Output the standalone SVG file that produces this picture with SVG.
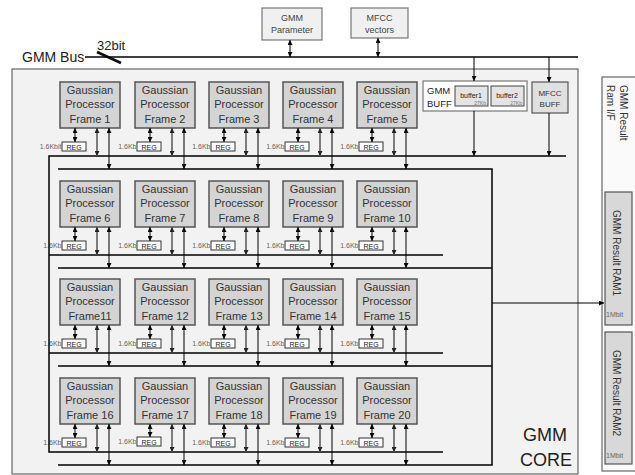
<svg xmlns="http://www.w3.org/2000/svg" width="635" height="475" viewBox="0 0 635 475">
<defs>
<marker id="ah" viewBox="0 0 6 6" refX="6" refY="3" markerWidth="5" markerHeight="5" markerUnits="userSpaceOnUse" orient="auto-start-reverse"><path d="M0,0 L6,3 L0,6 z" fill="#000"/></marker>
<marker id="ahg" viewBox="0 0 6 6" refX="6" refY="3" markerWidth="5" markerHeight="5" markerUnits="userSpaceOnUse" orient="auto-start-reverse"><path d="M0,0 L6,3 L0,6 z" fill="#222"/></marker>
</defs>
<style>
text{font-family:"Liberation Sans",Arial,sans-serif;}
.gp rect{fill:#d4d4d4;stroke:#555;stroke-width:1.5;}
.gp text{font-size:11px;fill:#333;text-anchor:middle;}
.reg rect{fill:#fff;stroke:#333;stroke-width:1;}
.reg text{font-size:7px;fill:#222;text-anchor:middle;}
.reg .kb{font-size:7px;fill:#666;text-anchor:end;}
.bus{stroke:#000;stroke-width:1.5;fill:none;}
.da{stroke:#000;stroke-width:1;fill:none;marker-start:url(#ah);marker-end:url(#ah);}
.dg{stroke:#555;stroke-width:1.5;fill:none;marker-start:url(#ahg);marker-end:url(#ahg);}
.sa{stroke:#000;stroke-width:1;fill:none;marker-end:url(#ah);}
.small{font-size:9px;fill:#444;text-anchor:middle;}
.rot{font-size:10px;fill:#333;}
.mb{font-size:7px;fill:#666;}
</style>

<rect x="12" y="69" width="566" height="405" fill="#f2f2f2" stroke="#666" stroke-width="1.2"/>

<g id="gmm-bus-label">
<text x="22" y="62" font-size="14" fill="#222">GMM Bus</text>
<text x="97" y="50" font-size="13" fill="#222">32bit</text>
<line x1="97" y1="52" x2="121" y2="63" stroke="#111" stroke-width="3"/>
</g>

<g id="gmm-parameter"><rect x="262" y="8" width="60" height="32" fill="#f0f0f0" stroke="#777" stroke-width="1.2"/><text class="small" x="292" y="21">GMM</text><text class="small" x="292" y="33">Parameter</text></g>
<g id="mfcc-vectors"><rect x="351" y="8" width="57" height="30" fill="#f0f0f0" stroke="#777" stroke-width="1.2"/><text class="small" x="379.5" y="21">MFCC</text><text class="small" x="379.5" y="33">vectors</text></g>

<g id="gmm-buff">
<rect x="423" y="81" width="104" height="30" fill="#fff" stroke="#777" stroke-width="1.2"/>
<text x="427" y="94" font-size="9.5" fill="#222">GMM</text>
<text x="427" y="107" font-size="9.5" fill="#222">BUFF</text>
<rect x="455" y="86" width="33" height="20" fill="#e4e4e4" stroke="#444" stroke-width="1"/>
<text x="471" y="98" font-size="7" fill="#222" text-anchor="middle">buffer1</text>
<text x="486" y="104.5" font-size="5" fill="#777" text-anchor="end">27Kb</text>
<rect x="491" y="86" width="33" height="20" fill="#e4e4e4" stroke="#444" stroke-width="1"/>
<text x="507" y="98" font-size="7" fill="#222" text-anchor="middle">buffer2</text>
<text x="522" y="104.5" font-size="5" fill="#777" text-anchor="end">27Kb</text>
</g>
<g id="mfcc-buff"><rect x="532" y="82" width="36" height="31" fill="#e0e0e0" stroke="#555" stroke-width="1.2"/><text x="550" y="96" font-size="8" fill="#333" text-anchor="middle">MFCC</text><text x="550" y="107" font-size="8" fill="#333" text-anchor="middle">BUFF</text></g>

<g id="ram-if"><rect x="602" y="77" width="40" height="394" fill="#fafafa" stroke="#666" stroke-width="1.2"/>
<text class="rot" transform="translate(620,85) rotate(90)" font-size="10.5">GMM Result</text>
<text class="rot" transform="translate(607,85) rotate(90)" font-size="10.5">Ram I/F</text></g>
<g id="ram1"><rect x="605" y="192" width="27" height="133" fill="#d8d8d8" stroke="#555" stroke-width="1.2"/>
<text class="rot" transform="translate(613,210) rotate(90)">GMM Result RAM1</text>
<text class="mb" x="606" y="317">1Mbit</text></g>
<g id="ram2"><rect x="605" y="332" width="27" height="132" fill="#d8d8d8" stroke="#555" stroke-width="1.2"/>
<text class="rot" transform="translate(613,350) rotate(90)">GMM Result RAM2</text>
<text class="mb" x="606" y="458">1Mbit</text></g>

<g id="gmm-core-label"><text x="545" y="441" font-size="18" fill="#222" text-anchor="middle">GMM</text><text x="546" y="466" font-size="18" fill="#222" text-anchor="middle">CORE</text></g>

<g id="frame1" class="gp"><rect x="60" y="82" width="60" height="46"/><text x="90" y="94">Gaussian</text><text x="90" y="108">Processor</text><text x="90" y="123">Frame 1</text></g>
<g id="frame2" class="gp"><rect x="135" y="82" width="60" height="46"/><text x="165" y="94">Gaussian</text><text x="165" y="108">Processor</text><text x="165" y="123">Frame 2</text></g>
<g id="frame3" class="gp"><rect x="209" y="82" width="60" height="46"/><text x="239" y="94">Gaussian</text><text x="239" y="108">Processor</text><text x="239" y="123">Frame 3</text></g>
<g id="frame4" class="gp"><rect x="283" y="82" width="60" height="46"/><text x="313" y="94">Gaussian</text><text x="313" y="108">Processor</text><text x="313" y="123">Frame 4</text></g>
<g id="frame5" class="gp"><rect x="357" y="82" width="60" height="46"/><text x="387" y="94">Gaussian</text><text x="387" y="108">Processor</text><text x="387" y="123">Frame 5</text></g>

<g id="frame6" class="gp"><rect x="60" y="181" width="60" height="46"/><text x="90" y="193">Gaussian</text><text x="90" y="207">Processor</text><text x="90" y="222">Frame 6</text></g>
<g id="frame7" class="gp"><rect x="135" y="181" width="60" height="46"/><text x="165" y="193">Gaussian</text><text x="165" y="207">Processor</text><text x="165" y="222">Frame 7</text></g>
<g id="frame8" class="gp"><rect x="209" y="181" width="60" height="46"/><text x="239" y="193">Gaussian</text><text x="239" y="207">Processor</text><text x="239" y="222">Frame 8</text></g>
<g id="frame9" class="gp"><rect x="283" y="181" width="60" height="46"/><text x="313" y="193">Gaussian</text><text x="313" y="207">Processor</text><text x="313" y="222">Frame 9</text></g>
<g id="frame10" class="gp"><rect x="357" y="181" width="60" height="46"/><text x="387" y="193">Gaussian</text><text x="387" y="207">Processor</text><text x="387" y="222">Frame 10</text></g>

<g id="frame11" class="gp"><rect x="60" y="279" width="60" height="46"/><text x="90" y="291">Gaussian</text><text x="90" y="305">Processor</text><text x="90" y="320">Frame11</text></g>
<g id="frame12" class="gp"><rect x="135" y="279" width="60" height="46"/><text x="165" y="291">Gaussian</text><text x="165" y="305">Processor</text><text x="165" y="320">Frame 12</text></g>
<g id="frame13" class="gp"><rect x="209" y="279" width="60" height="46"/><text x="239" y="291">Gaussian</text><text x="239" y="305">Processor</text><text x="239" y="320">Frame 13</text></g>
<g id="frame14" class="gp"><rect x="283" y="279" width="60" height="46"/><text x="313" y="291">Gaussian</text><text x="313" y="305">Processor</text><text x="313" y="320">Frame 14</text></g>
<g id="frame15" class="gp"><rect x="357" y="279" width="60" height="46"/><text x="387" y="291">Gaussian</text><text x="387" y="305">Processor</text><text x="387" y="320">Frame 15</text></g>

<g id="frame16" class="gp"><rect x="60" y="378" width="60" height="46"/><text x="90" y="390">Gaussian</text><text x="90" y="404">Processor</text><text x="90" y="419">Frame 16</text></g>
<g id="frame17" class="gp"><rect x="135" y="378" width="60" height="46"/><text x="165" y="390">Gaussian</text><text x="165" y="404">Processor</text><text x="165" y="419">Frame 17</text></g>
<g id="frame18" class="gp"><rect x="209" y="378" width="60" height="46"/><text x="239" y="390">Gaussian</text><text x="239" y="404">Processor</text><text x="239" y="419">Frame 18</text></g>
<g id="frame19" class="gp"><rect x="283" y="378" width="60" height="46"/><text x="313" y="390">Gaussian</text><text x="313" y="404">Processor</text><text x="313" y="419">Frame 19</text></g>
<g id="frame20" class="gp"><rect x="357" y="378" width="60" height="46"/><text x="387" y="390">Gaussian</text><text x="387" y="404">Processor</text><text x="387" y="419">Frame 20</text></g>

<g id="regs-row1" class="reg">
<rect x="62" y="142" width="24" height="9"/><text x="74" y="149.5">REG</text><text class="kb" x="61.5" y="149">1.6Kbit</text>
<rect x="137" y="142" width="24" height="9"/><text x="149" y="149.5">REG</text><text class="kb" x="136.5" y="149">1.6Kb</text>
<rect x="211" y="142" width="24" height="9"/><text x="223" y="149.5">REG</text><text class="kb" x="210.5" y="149">1.6Kb</text>
<rect x="285" y="142" width="24" height="9"/><text x="297" y="149.5">REG</text><text class="kb" x="284.5" y="149">1.6Kb</text>
<rect x="359" y="142" width="24" height="9"/><text x="371" y="149.5">REG</text><text class="kb" x="358.5" y="149">1.6Kb</text>
</g>
<g id="regs-row2" class="reg">
<rect x="62" y="241" width="24" height="9"/><text x="74" y="248.5">REG</text><text class="kb" x="61.5" y="248">1.6Kb</text>
<rect x="137" y="241" width="24" height="9"/><text x="149" y="248.5">REG</text><text class="kb" x="136.5" y="248">1.6Kb</text>
<rect x="211" y="241" width="24" height="9"/><text x="223" y="248.5">REG</text><text class="kb" x="210.5" y="248">1.6Kb</text>
<rect x="285" y="241" width="24" height="9"/><text x="297" y="248.5">REG</text><text class="kb" x="284.5" y="248">1.6Kb</text>
<rect x="359" y="241" width="24" height="9"/><text x="371" y="248.5">REG</text><text class="kb" x="358.5" y="248">1.6Kb</text>
</g>
<g id="regs-row3" class="reg">
<rect x="62" y="339" width="24" height="9"/><text x="74" y="346.5">REG</text><text class="kb" x="61.5" y="346">1.6Kb</text>
<rect x="137" y="339" width="24" height="9"/><text x="149" y="346.5">REG</text><text class="kb" x="136.5" y="346">1.6Kb</text>
<rect x="211" y="339" width="24" height="9"/><text x="223" y="346.5">REG</text><text class="kb" x="210.5" y="346">1.6Kb</text>
<rect x="285" y="339" width="24" height="9"/><text x="297" y="346.5">REG</text><text class="kb" x="284.5" y="346">1.6Kb</text>
<rect x="359" y="339" width="24" height="9"/><text x="371" y="346.5">REG</text><text class="kb" x="358.5" y="346">1.6Kb</text>
</g>
<g id="regs-row4" class="reg">
<rect x="62" y="438" width="24" height="9"/><text x="74" y="445.5">REG</text><text class="kb" x="61.5" y="445">1.6Kb</text>
<rect x="137" y="437" width="24" height="9"/><text x="149" y="444.5">REG</text><text class="kb" x="136.5" y="444">1.6Kb</text>
<rect x="211" y="438" width="24" height="9"/><text x="223" y="445.5">REG</text><text class="kb" x="210.5" y="445">1.6Kb</text>
<rect x="285" y="438" width="24" height="9"/><text x="297" y="445.5">REG</text><text class="kb" x="284.5" y="445">1.6Kb</text>
<rect x="359" y="438" width="24" height="9"/><text x="371" y="445.5">REG</text><text class="kb" x="358.5" y="445">1.6Kb</text>
</g>

<g id="connectors">
<path class="bus" d="M85,57 H578"/>
<line class="da" x1="290" y1="40" x2="290" y2="57"/>
<line class="da" x1="378" y1="38" x2="378" y2="57"/>
<line class="sa" x1="474" y1="57" x2="474" y2="81"/>
<line class="sa" x1="549" y1="57" x2="549" y2="82"/>
<line class="sa" x1="474" y1="111" x2="474" y2="156"/>
<line class="sa" x1="549" y1="113" x2="549" y2="156"/>

<path class="bus" d="M566,156 H49 V452 H443"/>
<path class="bus" d="M49,255 H443"/>
<path class="bus" d="M49,353 H443"/>
<path class="bus" d="M58,169 H492 V465 H58"/>
<path class="bus" d="M58,268 H492"/>
<path class="bus" d="M58,366 H492"/>
<line class="sa" x1="492" y1="303" x2="604" y2="303" stroke-width="1.5"/>

<line class="da" x1="75" y1="128" x2="75" y2="142"/><line class="da" x1="150" y1="128" x2="150" y2="142"/><line class="da" x1="224" y1="128" x2="224" y2="142"/><line class="da" x1="298" y1="128" x2="298" y2="142"/><line class="da" x1="372" y1="128" x2="372" y2="142"/>
<line class="dg" x1="97" y1="128" x2="97" y2="156"/><line class="dg" x1="172" y1="128" x2="172" y2="156"/><line class="dg" x1="246" y1="128" x2="246" y2="156"/><line class="dg" x1="320" y1="128" x2="320" y2="156"/><line class="dg" x1="394" y1="128" x2="394" y2="156"/>
<line class="da" x1="109" y1="128" x2="109" y2="169"/><line class="da" x1="184" y1="128" x2="184" y2="169"/><line class="da" x1="258" y1="128" x2="258" y2="169"/><line class="da" x1="332" y1="128" x2="332" y2="169"/><line class="da" x1="406" y1="128" x2="406" y2="169"/>

<line class="da" x1="75" y1="227" x2="75" y2="241"/><line class="da" x1="150" y1="227" x2="150" y2="241"/><line class="da" x1="224" y1="227" x2="224" y2="241"/><line class="da" x1="298" y1="227" x2="298" y2="241"/><line class="da" x1="372" y1="227" x2="372" y2="241"/>
<line class="dg" x1="97" y1="227" x2="97" y2="255"/><line class="dg" x1="172" y1="227" x2="172" y2="255"/><line class="dg" x1="246" y1="227" x2="246" y2="255"/><line class="dg" x1="320" y1="227" x2="320" y2="255"/><line class="dg" x1="394" y1="227" x2="394" y2="255"/>
<line class="da" x1="109" y1="227" x2="109" y2="268"/><line class="da" x1="184" y1="227" x2="184" y2="268"/><line class="da" x1="258" y1="227" x2="258" y2="268"/><line class="da" x1="332" y1="227" x2="332" y2="268"/><line class="da" x1="406" y1="227" x2="406" y2="268"/>

<line class="da" x1="75" y1="325" x2="75" y2="339"/><line class="da" x1="150" y1="325" x2="150" y2="339"/><line class="da" x1="224" y1="325" x2="224" y2="339"/><line class="da" x1="298" y1="325" x2="298" y2="339"/><line class="da" x1="372" y1="325" x2="372" y2="339"/>
<line class="dg" x1="97" y1="325" x2="97" y2="353"/><line class="dg" x1="172" y1="325" x2="172" y2="353"/><line class="dg" x1="246" y1="325" x2="246" y2="353"/><line class="dg" x1="320" y1="325" x2="320" y2="353"/><line class="dg" x1="394" y1="325" x2="394" y2="353"/>
<line class="da" x1="109" y1="325" x2="109" y2="366"/><line class="da" x1="184" y1="325" x2="184" y2="366"/><line class="da" x1="258" y1="325" x2="258" y2="366"/><line class="da" x1="332" y1="325" x2="332" y2="366"/><line class="da" x1="406" y1="325" x2="406" y2="366"/>

<line class="da" x1="75" y1="424" x2="75" y2="438"/><line class="da" x1="150" y1="424" x2="150" y2="437"/><line class="da" x1="224" y1="424" x2="224" y2="438"/><line class="da" x1="298" y1="424" x2="298" y2="438"/><line class="da" x1="372" y1="424" x2="372" y2="438"/>
<line class="dg" x1="97" y1="424" x2="97" y2="452"/><line class="dg" x1="172" y1="424" x2="172" y2="452"/><line class="dg" x1="246" y1="424" x2="246" y2="452"/><line class="dg" x1="320" y1="424" x2="320" y2="452"/><line class="dg" x1="394" y1="424" x2="394" y2="452"/>
<line class="da" x1="109" y1="424" x2="109" y2="465"/><line class="da" x1="184" y1="424" x2="184" y2="465"/><line class="da" x1="258" y1="424" x2="258" y2="465"/><line class="da" x1="332" y1="424" x2="332" y2="465"/><line class="da" x1="406" y1="424" x2="406" y2="465"/>
</g>
</svg>
